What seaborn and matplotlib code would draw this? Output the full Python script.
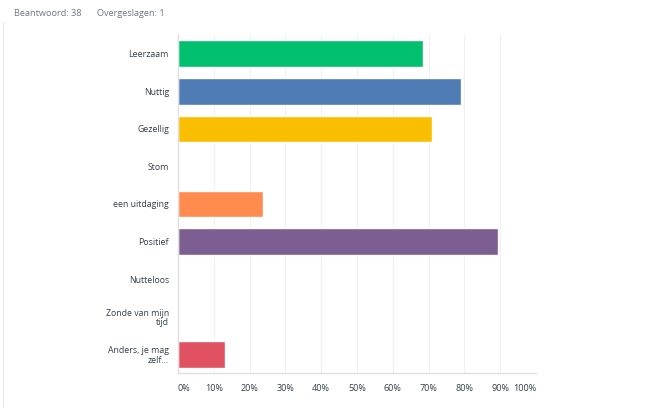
import matplotlib
matplotlib.use("Agg")
import matplotlib.pyplot as plt
import seaborn as sns
import pandas as pd
from matplotlib.lines import Line2D

categories = ["Leerzaam", "Nuttig", "Gezellig", "Stom", "een uitdaging",
              "Positief", "Nutteloos", "Zonde van mijn\ntijd", "Anders, je mag\nzelf..."]
percent = [68.42, 78.95, 71.05, 0.0, 23.68, 89.47, 0.0, 0.0, 13.16]
colors = ["#00bf6f", "#507cb6", "#f9be00", "#6bc8cd", "#ff8b4f",
          "#7d5e90", "#d25f90", "#a0a0a0", "#e05161"]
xticks = [0, 10, 20, 30, 40, 50, 60, 70, 80, 90, 100]
xticklabels = [f"{t}%" for t in xticks]
header_answered = "Beantwoord: 38"
header_skipped = "Overgeslagen: 1"

sns.set_theme(style="white")
plt.rcParams["font.family"] = ["Open Sans", "DejaVu Sans"]

df = pd.DataFrame({"cat": categories, "pct": percent})

fig = plt.figure(figsize=(6.62, 4.08), dpi=100)
ax = fig.add_axes([178/662, 1-373/408, (536-178)/662, (373-35)/408])

sns.barplot(data=df, y="cat", x="pct", hue="cat", palette=colors,
            order=categories, hue_order=categories, orient="h",
            width=0.71, legend=False, ax=ax, saturation=1)

ax.set_xlim(0, 100)
ax.set_ylim(8.5, -0.5)
ax.set_xticks(xticks)
ax.set_xticklabels(xticklabels)
ax.set_xlabel("")
ax.set_ylabel("")
ax.set_axisbelow(True)
ax.grid(axis="x", color="#f0f0f0", linewidth=0.8)
ax.grid(axis="y", visible=False)
for s in ["top", "right"]:
    ax.spines[s].set_visible(False)
for s in ["left", "bottom"]:
    ax.spines[s].set_color("#e0e0e0")
    ax.spines[s].set_linewidth(1.0)
ax.tick_params(axis="x", length=0, pad=8, labelsize=6.5, labelcolor="#333e48")
ax.tick_params(axis="y", length=0, pad=6.5, labelsize=6.3, labelcolor="#333e48")
for t in ax.get_yticklabels():
    t.set_linespacing(1.05)
xl = ax.get_xticklabels()
xl[0].set_ha("left")
xl[-1].set_ha("right")

fig.text(14/662, 1-13/408, header_answered, fontsize=6.6, color="#6b7880", va="center")
fig.text(97/662, 1-13/408, header_skipped, fontsize=6.6, color="#6b7880", va="center")
fig.add_artist(Line2D([2.5/662, 2.5/662], [0, 1-22/408], transform=fig.transFigure,
                      color="#e8e8e8", linewidth=1.0))

fig.savefig("out.png", dpi=100)
